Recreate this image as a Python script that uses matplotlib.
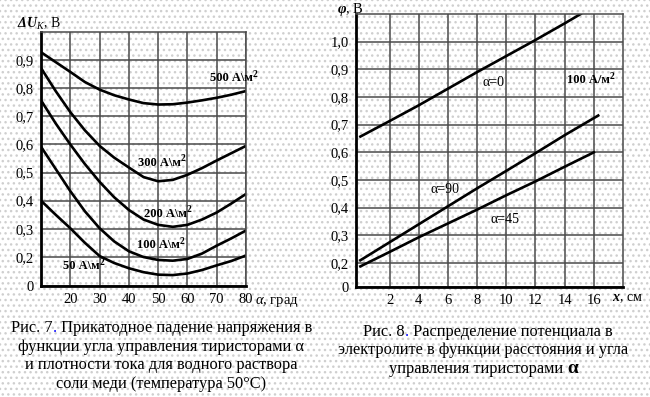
import numpy as np
import matplotlib
matplotlib.use("Agg")
import matplotlib.pyplot as plt
from matplotlib.patches import Rectangle

plt.rcParams["font.family"] = ["Liberation Serif", "DejaVu Serif"]
plt.rcParams["mathtext.fontset"] = "custom"
plt.rcParams["mathtext.rm"] = "Liberation Serif"
plt.rcParams["mathtext.it"] = "Liberation Serif:italic"
plt.rcParams["mathtext.bf"] = "Liberation Serif:bold:italic"
plt.rcParams["hatch.linewidth"] = 1.0

# ── Fig. 7: cathode voltage drop vs thyristor angle ─────────────────
alpha = [10, 15, 20, 25, 30, 35, 40, 45, 50, 55, 60, 65, 70, 75, 80]
du_500 = [0.928, 0.893, 0.858, 0.822, 0.795, 0.775, 0.760, 0.747, 0.742, 0.743, 0.749, 0.757, 0.766, 0.777, 0.790]
du_300 = [0.872, 0.790, 0.715, 0.650, 0.595, 0.553, 0.518, 0.484, 0.469, 0.474, 0.492, 0.516, 0.543, 0.569, 0.595]
du_200 = [0.757, 0.675, 0.600, 0.530, 0.467, 0.412, 0.367, 0.333, 0.314, 0.307, 0.314, 0.333, 0.358, 0.390, 0.424]
du_100 = [0.592, 0.513, 0.434, 0.362, 0.302, 0.255, 0.220, 0.199, 0.179, 0.174, 0.186, 0.212, 0.240, 0.266, 0.294]
du_50 = [0.400, 0.350, 0.302, 0.250, 0.203, 0.158, 0.122, 0.095, 0.078, 0.075, 0.086, 0.110, 0.142, 0.172, 0.205]
left_curves = [du_500, du_300, du_200, du_100, du_50]
left_names = ["500 А\\м", "300 А\\м", "200 А\\м", "100 А\\м", "50 А\\м"]
left_name_pos = [(75.0, 0.835), (50.5, 0.535), (52.5, 0.353), (50.1, 0.241), (23.8, 0.137)]
left_xticks = [20, 30, 40, 50, 60, 70, 80]
left_yticks = [0, 0.2, 0.3, 0.4, 0.5, 0.6, 0.7, 0.8, 0.9]

# ── Fig. 8: potential distribution vs distance ──────────────────────
x_a0 = [0, 2, 4, 6, 8, 10, 12, 14, 15.1]
phi_a0 = [0.657, 0.713, 0.770, 0.830, 0.890, 0.948, 1.006, 1.066, 1.100]
x_a90 = [0, 2, 4, 6, 8, 10, 12, 14, 16.3]
phi_a90 = [0.210, 0.275, 0.340, 0.405, 0.470, 0.533, 0.597, 0.662, 0.733]
x_a45 = [0, 2, 4, 6, 8, 10, 12, 14, 16]
phi_a45 = [0.172, 0.240, 0.293, 0.343, 0.393, 0.445, 0.495, 0.548, 0.600]
right_names = ["α=0", "α=90", "α=45"]
right_name_pos = [(9.1, 0.851), (5.8, 0.465), (9.9, 0.356)]
right_xticks = [2, 4, 6, 8, 10, 12, 14, 16]
right_yticks = [0, 0.2, 0.3, 0.4, 0.5, 0.6, 0.7, 0.8, 0.9, 1.0]


def broken_scale(k):
    # the first cell of both original charts spans 0..0.2 instead of 0.1
    def fwd(y):
        y = np.asarray(y, dtype=float)
        return np.where(y >= 0.2, y, 0.2 - (0.2 - y) * 0.5 * k)

    def inv(v):
        v = np.asarray(v, dtype=float)
        return np.where(v >= 0.2, v, 0.2 - (0.2 - v) / (0.5 * k))
    return fwd, inv


def style_axes(ax, k, xticks, yticks):
    ax.set_yscale("function", functions=broken_scale(k))
    ax.set_facecolor("none")
    ax.set_xticks(xticks)
    ax.set_yticks(yticks)
    ax.set_yticklabels(["0" if v == 0 else f"{v:.1f}".replace(".", ",") for v in yticks])
    ax.tick_params(length=0, labelsize=10.5, pad=5)
    ax.grid(True, color="#4a4a4a", lw=1.1)
    for side in ("left", "bottom"):
        ax.spines[side].set_linewidth(2.0)
        ax.spines[side].set_color("black")
    for side in ("top", "right"):
        ax.spines[side].set_linewidth(1.1)
        ax.spines[side].set_color("#4a4a4a")


def density_label(ax, x, y, text):
    t = ax.text(x, y, text, fontsize=9, fontweight="bold", ha="center", va="center")
    ax.annotate("2", xy=(1, 0.45), xycoords=t, fontsize=7, fontweight="bold",
                ha="left", va="bottom")


fig = plt.figure(figsize=(6.5, 3.97), dpi=100)
fig.patches.append(Rectangle((0, 0), 1, 1, transform=fig.transFigure, facecolor="white",
                             edgecolor="#cfcfcf", hatch="...", lw=0, zorder=-10))

ax1 = fig.add_axes([0.0631, 0.2796, 0.3154, 0.6398])
style_axes(ax1, 1.035, left_xticks, left_yticks)
ax1.set_xlim(10, 80)
ax1.set_ylim(0, 1.0)
for vals in left_curves:
    ax1.plot(alpha, vals, color="black", lw=1.9, solid_capstyle="butt")
for name, (px, py) in zip(left_names, left_name_pos):
    density_label(ax1, px, py, name)
fig.text(0.026, 0.94, "$\\mathbf{\\Delta U}_{\\mathit{K}}$, В", fontsize=10, va="center")
fig.text(0.393, 0.24, "$\\alpha$, град", fontsize=10.5, va="center")

ax2 = fig.add_axes([0.5477, 0.2771, 0.4108, 0.6877])
style_axes(ax2, 0.866, right_xticks, right_yticks)
ax2.set_xlim(-0.3, 18)
ax2.set_ylim(0, 1.1)
ax2.plot(x_a0, phi_a0, color="black", lw=1.9)
ax2.plot(x_a90, phi_a90, color="black", lw=1.9)
ax2.plot(x_a45, phi_a45, color="black", lw=1.9)
for name, (px, py) in zip(right_names, right_name_pos):
    ax2.text(px, py, name, fontsize=10, ha="center", va="center")
density_label(ax2, 15.6, 0.86, "100 А/м")
fig.text(0.518, 0.976, "$\\mathbf{\\varphi}$, В", fontsize=10.5, va="center")
fig.text(0.942, 0.249, "$\\mathbf{x}$, см", fontsize=10, va="center")

# captions, the figure number dot is blue in the original
cap1 = ["функции угла управления тиристорами α",
        "и плотности тока для водного раствора",
        "соли меди (температура 50°С)"]
cap2 = ["электролите в функции расстояния и угла",
        "управления тиристорами"]
cap_size = 11.8

dot1 = fig.text(52.7 / 650, 1 - 328 / 397, ".", color="blue", fontsize=cap_size, va="center")
ax1.annotate("Рис. 7", xy=(0, 0), xycoords=dot1, ha="right", va="bottom", fontsize=cap_size)
ax1.annotate(" Прикатодное падение напряжения в", xy=(1, 0), xycoords=dot1,
             ha="left", va="bottom", fontsize=cap_size)
for i, line in enumerate(cap1):
    fig.text(161 / 650, 1 - (347 + 18.3 * i) / 397, line, fontsize=cap_size, ha="center", va="center")

dot2 = fig.text(405 / 650, 1 - 331.7 / 397, ".", color="blue", fontsize=cap_size, va="center")
ax2.annotate("Рис. 8", xy=(0, 0), xycoords=dot2, ha="right", va="bottom", fontsize=cap_size)
ax2.annotate(" Распределение потенциала в", xy=(1, 0), xycoords=dot2,
             ha="left", va="bottom", fontsize=cap_size)
fig.text(483 / 650, 1 - 350 / 397, cap2[0], fontsize=cap_size, ha="center", va="center")
t3 = fig.text(476 / 650, 1 - 369 / 397, cap2[1], fontsize=cap_size, ha="center", va="center")
ax2.annotate(" α", xy=(1, 0), xycoords=t3, ha="left", va="bottom", fontsize=14, fontweight="bold")

fig.savefig("out.png", dpi=100)
